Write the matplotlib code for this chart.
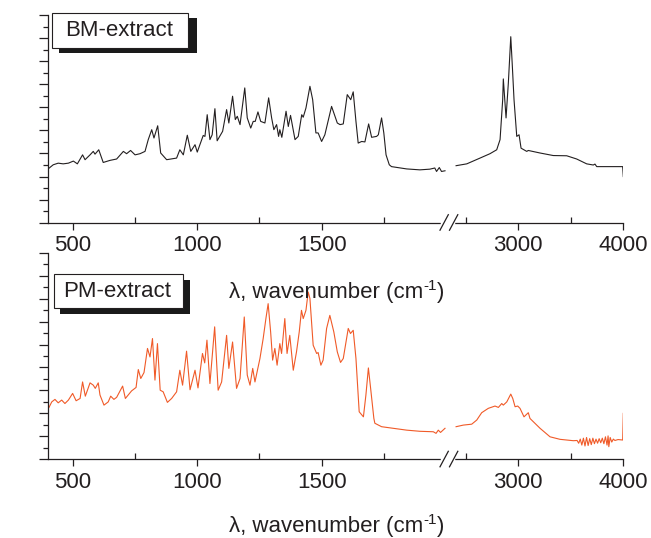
import matplotlib
matplotlib.use("Agg")
import matplotlib.pyplot as plt
from matplotlib.patches import Rectangle
from matplotlib.lines import Line2D
from matplotlib.ticker import FixedLocator, MultipleLocator

plt.rcParams['font.family'] = ['Liberation Sans', 'DejaVu Sans']

TEXT = '#231f20'
BM_COLOR = '#231f20'
PM_COLOR = '#f05a28'

# BM-extract, 400-2000 cm-1
bm_wn_low = [405, 421, 441, 461, 482, 502, 518, 539, 549, 569, 582, 589, 604, 622, 649,
             676, 703, 716, 732, 750, 770, 790, 803, 817, 826, 841, 853, 877, 917, 930,
             944, 960, 974, 991, 1000, 1024, 1031, 1040, 1051, 1060, 1071, 1080, 1102,
             1118, 1127, 1142, 1153, 1161, 1172, 1191, 1201, 1215, 1225, 1233, 1244,
             1255, 1272, 1287, 1299, 1308, 1319, 1327, 1332, 1340, 1357, 1366, 1375,
             1393, 1406, 1420, 1426, 1437, 1453, 1464, 1477, 1486, 1500, 1513, 1540,
             1563, 1574, 1587, 1603, 1617, 1627, 1638, 1647, 1661, 1674, 1689, 1701,
             1721, 1728, 1741, 1750, 1759, 1772, 1781, 1842, 1895, 1935, 1955, 1962,
             1973, 1982, 1996]
bm_int_low = [2.37, 2.51, 2.58, 2.55, 2.58, 2.67, 2.55, 2.94, 2.73, 2.94, 3.09, 2.97, 3.16,
              2.61, 2.70, 2.76, 3.09, 2.99, 3.13, 2.94, 2.99, 3.09, 3.60, 4.03, 3.67, 4.20,
              3.02, 2.73, 2.80, 3.16, 2.94, 3.79, 3.09, 3.38, 3.06, 3.78, 3.74, 4.68, 3.60,
              3.81, 4.94, 3.55, 3.96, 4.90, 4.32, 5.48, 4.47, 4.61, 4.25, 5.84, 4.54, 4.10,
              4.39, 4.39, 4.80, 4.39, 4.32, 5.41, 4.54, 4.03, 4.25, 3.74, 4.03, 3.70, 4.83,
              4.17, 4.65, 3.60, 3.74, 4.68, 4.57, 4.97, 5.91, 5.33, 3.89, 3.89, 3.52, 3.81,
              5.04, 4.32, 4.25, 4.28, 5.55, 5.33, 5.67, 4.39, 3.45, 3.52, 3.50, 4.28, 3.70,
              3.74, 3.81, 4.54, 3.89, 2.94, 2.51, 2.43, 2.33, 2.29, 2.32, 2.37, 2.22, 2.39,
              2.22, 2.25]

# BM-extract, 2400-4000 cm-1
bm_wn_high = [2407, 2509, 2635, 2730, 2794, 2826, 2851, 2857, 2883, 2905, 2928, 2943, 2959,
              2985, 3007, 3026, 3080, 3095, 3207, 3333, 3461, 3556, 3651, 3714, 3730, 3747,
              3873, 3994, 4000]
bm_int_high = [2.47, 2.55, 2.80, 2.99, 3.16, 3.60, 5.33, 6.23, 4.54, 6.06, 8.06, 6.78, 5.33,
               3.74, 3.81, 3.23, 3.09, 3.13, 3.02, 2.91, 2.90, 2.76, 2.55, 2.50, 2.54, 2.43,
               2.43, 2.43, 2.00]

# PM-extract, 400-2000 cm-1
pm_wn_low = [404, 415, 428, 441, 455, 468, 482, 499, 513, 529, 539, 550, 569, 582, 590, 602,
             609, 625, 642, 652, 665, 676, 700, 711, 736, 754, 763, 773, 786, 800, 810, 820,
             830, 840, 851, 863, 880, 897, 917, 930, 941, 957, 971, 991, 1003, 1021, 1030,
             1039, 1051, 1070, 1084, 1098, 1118, 1127, 1142, 1158, 1172, 1189, 1201, 1212,
             1223, 1232, 1252, 1265, 1276, 1285, 1295, 1303, 1312, 1321, 1332, 1339, 1352,
             1361, 1372, 1386, 1399, 1410, 1419, 1426, 1437, 1446, 1453, 1466, 1480, 1486,
             1497, 1506, 1520, 1533, 1549, 1563, 1576, 1587, 1607, 1616, 1627, 1638, 1651,
             1668, 1678, 1688, 1697, 1710, 1714, 1741, 1788, 1842, 1895, 1949, 1960, 1969,
             1978, 1996]
pm_int_low = [2.26, 2.50, 2.61, 2.46, 2.58, 2.43, 2.58, 2.87, 2.55, 2.65, 3.37, 2.75, 3.33,
              3.23, 3.09, 3.33, 2.80, 2.36, 2.50, 2.75, 2.61, 2.70, 3.19, 2.65, 2.98, 3.13,
              3.91, 3.52, 3.78, 4.83, 4.46, 5.26, 3.45, 5.04, 3.01, 2.94, 2.48, 2.65, 2.94,
              3.88, 3.23, 4.71, 3.03, 3.88, 3.11, 4.61, 4.20, 5.19, 3.30, 5.77, 3.01, 3.37,
              5.40, 3.96, 5.11, 3.09, 3.52, 6.20, 3.67, 3.23, 3.96, 3.37, 4.39, 5.26, 6.13,
              6.78, 5.55, 4.32, 4.83, 4.10, 5.04, 4.61, 6.13, 4.61, 5.40, 3.88, 4.68, 5.55,
              6.49, 6.13, 6.49, 7.29, 7.00, 4.97, 4.61, 4.65, 4.10, 4.32, 5.70, 6.27, 5.55,
              4.68, 4.22, 4.39, 5.70, 5.48, 5.62, 4.39, 2.07, 1.85, 2.80, 3.98, 3.09, 1.78,
              1.57, 1.42, 1.35, 1.27, 1.22, 1.20, 1.13, 1.27, 1.17, 1.35]

# PM-extract, 2400-4000 cm-1
pm_wn_high = [2407, 2476, 2556, 2604, 2651, 2714, 2778, 2810, 2842, 2857, 2890, 2928, 2947,
              2969, 2994, 3016, 3054, 3095, 3111, 3207, 3302, 3397, 3524, 3560, 3575, 3590,
              3605, 3620, 3635, 3650, 3665, 3680, 3695, 3710, 3725, 3740, 3755, 3770, 3785,
              3800, 3815, 3830, 3845, 3855, 3862, 3875, 3890, 3905, 3920, 3950, 3994, 4000]
pm_int_high = [1.42, 1.49, 1.53, 1.71, 2.03, 2.22, 2.32, 2.26, 2.43, 2.36, 2.50, 2.84, 2.65,
               2.29, 2.32, 2.22, 1.85, 2.03, 1.78, 1.35, 0.98, 0.87, 0.81, 0.82, 0.70, 0.88,
               0.62, 0.92, 0.58, 0.95, 0.60, 0.90, 0.64, 0.92, 0.68, 0.88, 0.70, 0.90, 0.72,
               0.92, 0.68, 0.98, 0.62, 1.02, 0.55, 0.95, 0.75, 0.88, 0.82, 0.86, 0.84, 2.00]

W, H = 651, 538


def fx(px):
    return px / W


def fy(py):
    return 1 - py / H


def style_axes(ax, show_left):
    ax.spines['top'].set_visible(False)
    ax.spines['right'].set_visible(False)
    ax.spines['left'].set_visible(show_left)
    for sp in ax.spines.values():
        sp.set_linewidth(0.9)
        sp.set_color(TEXT)
    ax.tick_params(axis='x', which='major', direction='out', length=5, width=0.9,
                   labelsize=16, pad=4, colors=TEXT)
    ax.tick_params(axis='x', which='minor', direction='in', length=4.3, width=0.9, colors=TEXT)
    ax.set_ylim(0, 9)
    if show_left:
        ax.yaxis.set_major_locator(MultipleLocator(1))
        ax.yaxis.set_minor_locator(MultipleLocator(0.5))
        ax.tick_params(axis='y', which='major', direction='out', length=6.3, width=0.9,
                       labelleft=False, colors=TEXT)
        ax.tick_params(axis='y', which='minor', direction='out', length=3.8, width=0.9,
                       colors=TEXT)
    else:
        ax.tick_params(axis='y', which='both', left=False, labelleft=False)


def make_panel(fig, top_px, bottom_px, wn_low, int_low, wn_high, int_high, color, label,
               box, shadow):
    h = (bottom_px - top_px) / H
    ax1 = fig.add_axes([fx(48), fy(bottom_px), fx(446) - fx(48), h])
    ax2 = fig.add_axes([fx(446), fy(bottom_px), fx(623.3) - fx(446), h])
    for ax in (ax1, ax2):
        ax.patch.set_alpha(0)
    ax1.plot(wn_low, int_low, color=color, lw=0.8)
    ax2.plot(wn_high, int_high, color=color, lw=0.8)
    ax1.set_xlim(400, 2000)
    ax2.set_xlim(2311, 4000)
    ax1.xaxis.set_major_locator(FixedLocator([500, 1000, 1500]))
    ax1.xaxis.set_minor_locator(FixedLocator([750, 1250, 1750]))
    ax2.xaxis.set_major_locator(FixedLocator([3000, 4000]))
    ax2.xaxis.set_minor_locator(FixedLocator([2500, 3500]))
    style_axes(ax1, True)
    style_axes(ax2, False)
    for t in ax2.get_xticklabels() + ax1.get_xticklabels():
        t.set_clip_on(False)

    # axis break marks
    y0 = bottom_px
    fig.add_artist(Line2D([fx(442), fx(453)], [fy(y0), fy(y0)], color='white', lw=2.5))
    for x0 in (440, 449.5):
        fig.add_artist(Line2D([fx(x0), fx(x0 + 8.3)], [fy(y0 + 7.5), fy(y0 - 8)],
                              color=TEXT, lw=0.9))

    # label box with drop shadow
    sx0, sy0, sx1, sy1 = shadow
    fig.add_artist(Rectangle((fx(sx0), fy(sy1)), fx(sx1) - fx(sx0), fy(sy0) - fy(sy1),
                             transform=fig.transFigure, facecolor='#1a1a1a', edgecolor='none'))
    bx0, by0, bx1, by1 = box
    fig.add_artist(Rectangle((fx(bx0), fy(by1)), fx(bx1) - fx(bx0), fy(by0) - fy(by1),
                             transform=fig.transFigure, facecolor='white', edgecolor=TEXT,
                             lw=0.8))
    fig.text(fx((bx0 + bx1) / 2 - 1.5), fy((by0 + by1) / 2), label, ha='center', va='center',
             fontsize=16, color=TEXT)
    return ax1, ax2


def wavenumber_label(fig, xc, baseline):
    # "λ, wavenumber (cm" + superscript "-1" + ")" centred on xc
    r = fig.canvas.get_renderer()
    parts = [('\u03bb, wavenumber (cm', 16, 0), ('-1', 11, 8), (')', 16, 0)]
    texts = []
    for s, size, rise in parts:
        t = fig.text(0, fy(baseline - rise), s, ha='left', va='baseline', fontsize=size,
                     color=TEXT)
        texts.append(t)
    widths = [t.get_window_extent(r).width for t in texts]
    x = xc - sum(widths) / 2
    for t, w in zip(texts, widths):
        t.set_x(fx(x))
        x += w


fig = plt.figure(figsize=(W / 100, H / 100), dpi=100)

make_panel(fig, 15, 222.7, bm_wn_low, bm_int_low, bm_wn_high, bm_int_high, BM_COLOR,
           'BM-extract', (52.3, 13.3, 188.3, 47.7), (59.3, 18.3, 196.7, 53.3))
make_panel(fig, 252.7, 459.3, pm_wn_low, pm_int_low, pm_wn_high, pm_int_high, PM_COLOR,
           'PM-extract', (54, 274.3, 183.3, 308.3), (60, 280, 190, 314))

wavenumber_label(fig, 336.5, 298)
wavenumber_label(fig, 336.5, 532)

fig.savefig('out.png', dpi=100)
